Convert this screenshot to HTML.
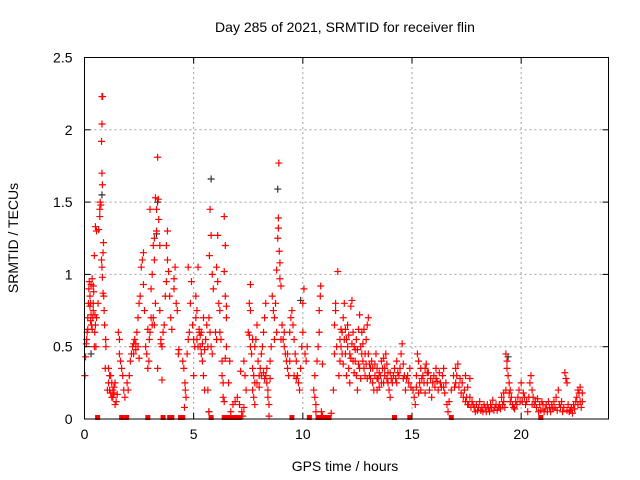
<!DOCTYPE html>
<html><head><meta charset="utf-8"><style>
body{margin:0;background:#fff}
svg{display:block;font-family:"Liberation Sans",sans-serif}
</style></head><body>
<svg id="chart" width="640" height="480">
<rect width="640" height="480" fill="#fff"/>
<g id="grid"></g>
<g id="marks"></g>
<g id="axes"></g>
<text x="345" y="32" text-anchor="middle" font-size="14">Day 285 of 2021, SRMTID for receiver flin</text>
<text x="345" y="471" text-anchor="middle" font-size="14">GPS time / hours</text>
<text transform="translate(18,238) rotate(-90)" text-anchor="middle" font-size="14">SRMTID / TECUs</text>
</svg>
<script>
const xTicks=[0,5,10,15,20];
const yTicks=[0,0.5,1,1.5,2,2.5];
const yTickLabels=["0","0.5","1","1.5","2","2.5"];
const zeroTimes=[0.6,1.7,1.93,2.9,3.6,3.9,4.0,4.4,4.5,5.8,6.4,6.5,6.6,6.7,6.8,6.9,7.0,7.1,9.5,10.3,10.7,10.8,10.9,11.0,11.1,11.2,14.2,14.9,16.8,20.9];
const greyPts=[[0.3,0.45],[0.8,1.55],[3.3,1.28],[3.35,1.5],[5.8,1.66],[8.85,1.59],[19.4,0.43],[5.7,0.05],[9.9,0.82]];
const redPts=[
[0.02,0.3],[0.05,0.43],[0.08,0.52],[0.1,0.55],[0.12,0.6],[0.15,0.7],[0.18,0.8],[0.2,0.9],[0.22,0.95],[0.25,0.78],[0.28,0.8],[0.3,0.72],[0.32,0.65],[0.35,0.62],[0.38,0.7],[0.4,0.75],[0.42,0.88],[0.3,0.93],[0.45,0.5],[0.47,0.6],[0.5,0.65],[0.25,0.85],[0.45,1.13],[0.55,1.3],[0.5,1.33],[0.52,0.5],[0.55,0.7],[0.4,0.92],[0.35,0.97],
[0.62,0.8],[0.65,1.31],[0.7,1.45],[0.72,1.5],[0.7,1.4],[0.75,1.48],[0.8,2.23],[0.83,2.23],[0.8,2.04],[0.78,1.92],[0.8,1.7],[0.82,1.62],[0.78,1.1],[0.8,1.05],[0.85,1.15],[0.87,1.22],[0.82,0.98],[0.85,0.87],[0.9,0.75],[0.88,0.85],[0.92,0.65],[0.95,0.35],[0.97,0.55],[0.98,0.5],
[1.05,0.2],[1.1,0.25],[1.15,0.3],[1.2,0.18],[1.25,0.15],[1.3,0.2],[1.35,0.22],[1.4,0.1],[1.45,0.12],[1.1,0.35],[1.2,0.3],[1.5,0.17],[1.55,0.6],[1.6,0.55],[1.6,0.45],[1.65,0.4],[1.7,0.35],[1.75,0.3],[1.8,0.2],[1.85,0.15],[1.95,0.25],
[2.0,0.2],[2.05,0.3],[2.1,0.4],[2.15,0.45],[2.2,0.5],[2.25,0.52],[2.3,0.55],[2.35,0.48],[2.4,0.6],[2.45,0.7],[2.5,0.8],[2.55,0.85],[2.6,1.05],[2.65,1.1],[2.7,1.15],[2.7,0.93],[2.75,0.75],[2.8,0.5],[2.85,0.45],[2.9,0.35],[2.95,0.4],[2.9,0.62],[2.97,0.55],
[3.0,0.6],[3.05,0.7],[3.1,0.65],[3.05,0.9],[3.1,1.0],[3.15,1.2],[3.2,1.25],[3.0,1.45],[3.25,1.53],[3.3,1.3],[3.35,1.81],[3.38,1.52],[3.3,1.45],[3.4,1.38],[3.45,1.2],[3.2,1.1],[3.25,0.8],[3.45,0.75],[3.5,0.55],[3.55,0.5],[3.35,0.35],[3.55,0.27],[3.6,0.6],[3.65,0.65],[3.7,0.85],[3.8,1.3],[3.75,1.2],[3.8,1.1],[3.85,1.02],[3.75,0.95],[3.9,0.85],[3.95,0.7],[4.0,0.62],[4.1,0.9],[4.15,1.05],[4.1,0.97],[4.2,0.8],[4.25,0.75],[4.3,0.45],[4.32,0.48],
[4.5,0.4],[4.55,0.35],[4.6,0.25],[4.62,0.2],[4.65,0.15],[4.58,0.08],[4.7,0.45],[4.75,0.55],[4.8,0.6],[4.85,0.8],[4.75,1.05],[4.9,0.95],[4.95,0.65],[5.0,0.55],[5.05,0.5],[5.0,0.3],[5.1,0.7],[5.1,0.85],[5.15,0.75],[5.2,1.05],[5.25,0.6],[5.3,0.5],[5.35,0.45],[5.4,0.4],[5.45,0.3],[5.5,0.2],[5.55,0.55],[5.6,0.65],[5.45,0.7],[5.35,0.6],[5.25,0.62],[5.65,0.5],
[5.75,1.45],[5.8,1.27],[5.72,1.13],[5.85,1.0],[5.9,0.9],[5.7,0.7],[5.75,0.6],[5.8,0.5],[5.85,0.45],[5.65,0.2],[5.7,0.05],[6.1,1.27],[6.05,1.05],[6.1,0.95],[6.15,0.8],[6.2,0.75],[6.2,0.6],[6.25,0.55],[6.3,0.4],[6.3,0.3],[6.35,0.25],[6.35,0.15],[6.4,0.12],[6.4,1.4],[6.45,1.2],[6.4,1.02],[6.45,0.85],[6.5,0.78],[6.5,0.7],[6.5,0.5],[6.45,0.42],
[6.6,0.25],[6.65,0.4],[6.7,0.05],[6.8,0.1],[6.9,0.12],[7.0,0.15],[7.1,0.1],[7.2,0.05],[7.25,0.02],[7.3,0.08],[7.15,0.33],[7.3,0.4],[7.35,0.3],[7.4,0.2],
[7.55,0.8],[7.6,0.75],[7.6,0.93],[7.5,0.6],[7.55,0.58],[7.6,0.5],[7.65,0.45],[7.7,0.35],[7.75,0.3],[7.8,0.25],[7.7,0.2],[7.75,0.15],[7.8,0.1],[7.85,0.55],[7.9,0.65],[7.95,0.4],[8.0,0.3],[8.05,0.35],[8.1,0.45],[8.15,0.5],[8.2,0.6],[8.25,0.7],[8.3,0.8],[8.3,0.3],[8.35,0.25],[8.4,0.2],[8.4,0.15],[8.45,0.1],[8.45,0.02],[8.5,0.28],
[8.6,0.85],[8.65,0.75],[8.7,0.7],[8.75,0.8],[8.8,1.03],[8.85,1.25],[8.88,1.32],[8.88,1.39],[8.9,1.77],[8.92,1.16],[8.95,1.08],[8.95,0.97],[9.0,0.92],[9.05,0.65],[9.1,0.55],[9.15,0.5],[9.2,0.45],[9.25,0.4],[9.3,0.35],[9.35,0.3],[9.4,0.6],[9.45,0.7],
[9.5,0.75],[9.55,0.65],[9.6,0.55],[9.65,0.45],[9.7,0.4],[9.75,0.3],[9.8,0.25],[9.85,0.2],[9.9,0.35],[9.95,0.5],[10.0,0.6],[10.0,0.8],[10.05,0.9],[10.1,0.45],[10.15,0.4],[10.2,0.5],
[10.5,0.2],[10.55,0.15],[10.6,0.1],[10.6,0.05],[10.55,0.3],[10.65,0.4],[10.7,0.5],[10.75,0.6],[10.75,0.75],[10.8,0.85],[10.82,0.92],[10.85,0.05],[10.9,0.02],[10.9,0.38],[11.3,0.04],[11.4,0.2],[11.45,0.65],[11.5,0.75],[11.5,0.8],[11.6,1.02],[11.55,0.5],[11.45,0.45],
[11.65,0.3],[11.7,0.4],[11.75,0.5],[11.8,0.6],[11.85,0.7],[11.9,0.8],[11.95,0.45],[12.0,0.55],[12.05,0.65],[12.1,0.35],[12.15,0.25],[12.2,0.78],[12.25,0.82],[12.3,0.6],[12.35,0.5],[12.4,0.4],[12.45,0.3],[12.5,0.2],[12.55,0.62],[12.6,0.72],[12.65,0.5],[12.7,0.45],[12.75,0.4],[12.8,0.35],[12.85,0.3],[12.9,0.55],[12.95,0.65],[13.0,0.7],[12.4,0.48],[12.2,0.42],[11.9,0.55],[12.0,0.3],[12.6,0.35],[12.8,0.62],
[13.05,0.3],[13.1,0.35],[13.15,0.4],[13.2,0.25],[13.25,0.2],[13.3,0.3],[13.35,0.45],[13.4,0.35],[13.45,0.28],[13.5,0.22],[13.55,0.3],[13.6,0.4],[13.65,0.35],[13.7,0.25],[13.75,0.3],[13.8,0.45],[13.85,0.38],[13.9,0.32],[13.95,0.2],[14.0,0.15],[14.1,0.25],[14.2,0.35],[14.3,0.4],[14.4,0.3],[14.5,0.45],[14.55,0.52],[14.6,0.28],[14.7,0.2],[14.8,0.3],[14.9,0.35],[14.95,0.22],[14.25,0.28],[14.0,0.32],[13.7,0.42],[13.4,0.2],
[15.05,0.2],[15.1,0.15],[15.15,0.1],[15.2,0.3],[15.25,0.45],[15.3,0.4],[15.35,0.25],[15.4,0.2],[15.5,0.3],[15.6,0.35],[15.65,0.38],[15.7,0.25],[15.8,0.2],[15.9,0.15],[16.0,0.3],[16.1,0.35],[16.2,0.2],[16.3,0.25],[16.4,0.3],[16.5,0.18],[16.6,0.1],[16.65,0.05],[16.7,0.12],[16.8,0.2],[16.9,0.3],[17.0,0.35],[17.1,0.38],[17.2,0.28],[17.3,0.25],[15.45,0.28],[15.75,0.32],[16.15,0.26],[16.45,0.22],[17.25,0.18],[16.95,0.22],
[17.4,0.2],[17.5,0.15],[17.6,0.1],[17.7,0.08],[17.8,0.1],[17.9,0.05],[18.0,0.06],[18.1,0.12],[18.2,0.08],[18.3,0.1],[18.4,0.05],[18.5,0.07],[18.6,0.1],[18.7,0.13],[18.8,0.08],[18.9,0.06],[19.0,0.1],[19.1,0.15],[19.2,0.12],[19.25,0.08],[17.55,0.22],[17.65,0.28],[17.45,0.3],[18.25,0.05],[18.75,0.06],
[19.3,0.45],[19.35,0.4],[19.4,0.3],[19.45,0.25],[19.5,0.2],[19.55,0.15],[19.6,0.1],[19.7,0.07],[19.8,0.1],[19.9,0.2],[20.0,0.25],[20.1,0.18],[20.2,0.1],[20.3,0.05],[19.35,0.35],[19.45,0.18],[20.05,0.12],
[20.4,0.25],[20.5,0.2],[20.55,0.15],[20.6,0.1],[20.7,0.08],[20.8,0.05],[20.9,0.06],[21.0,0.1],[21.1,0.07],[21.2,0.05],[21.3,0.08],[21.4,0.1],[21.5,0.12],[21.6,0.15],[21.7,0.2],[21.8,0.08],[21.9,0.05],[22.0,0.32],[22.05,0.28],[22.1,0.25],[22.15,0.1],[22.2,0.05],[22.3,0.08],[22.4,0.1],[22.5,0.12],[22.55,0.15],[22.6,0.2],[22.65,0.18],[22.7,0.12],[22.75,0.08],[20.45,0.3],[21.65,0.06],[22.35,0.04],[22.7,0.22],[20.75,0.14],[21.25,0.12]
];
const redPtsExtra=[
[0.15,0.62],[0.28,0.68],[0.4,0.8],[0.48,0.72],[1.15,0.2],[1.25,0.25],[1.3,0.15],[1.35,0.18],[1.4,0.25],[2.25,0.45],[2.35,0.52],[2.45,0.5],[2.5,0.42],[3.15,0.7],[3.2,0.65],[3.5,0.52],[5.15,0.55],[5.2,0.5],[5.3,0.58],[5.4,0.52],[5.5,0.48],[6.0,0.6],[6.05,0.55],
[7.9,0.25],[8.0,0.22],[8.1,0.3],[8.2,0.32],[8.25,0.28],[8.35,0.35],[8.5,0.4],[8.55,0.5],[8.7,0.55],[8.8,0.6],[9.0,0.55],[9.15,0.6],[9.3,0.45],[9.4,0.4],[7.7,0.55],[7.8,0.5],[9.6,0.3],[9.7,0.28],
[11.7,0.55],[11.75,0.62],[11.8,0.45],[11.85,0.38],[11.95,0.62],[12.05,0.5],[12.1,0.58],[12.15,0.45],[12.25,0.52],[12.3,0.4],[12.35,0.32],[12.45,0.55],[12.5,0.48],[12.55,0.38],[12.65,0.28],[12.7,0.6],[12.75,0.52],[12.85,0.45],[12.9,0.38],[12.95,0.28],[13.0,0.45],[13.05,0.38],[13.1,0.28],[13.2,0.35],[13.3,0.38],[13.4,0.28],[13.5,0.32],[13.6,0.25],[13.75,0.35],[13.85,0.28],[13.9,0.25],[14.05,0.28],[14.15,0.3],[14.3,0.25],[14.35,0.32],[14.45,0.35],[14.6,0.38],[14.65,0.3],[14.75,0.28],[14.85,0.25],
[15.2,0.22],[15.3,0.18],[15.4,0.35],[15.55,0.25],[15.6,0.18],[15.7,0.32],[15.85,0.28],[15.95,0.25],[16.05,0.22],[16.1,0.28],[16.25,0.32],[16.35,0.22],[16.45,0.35],[16.55,0.25],[17.0,0.25],[17.05,0.3],[17.15,0.22],[17.35,0.15],[17.45,0.12],[17.55,0.1],[17.65,0.15],[17.75,0.12],[17.85,0.08],[17.95,0.1],[18.05,0.08],[18.15,0.06],[18.35,0.08],[18.45,0.1],[18.55,0.05],[18.65,0.08],[18.85,0.1],[18.95,0.08],[19.05,0.07],[19.15,0.1],[19.2,0.18],[19.3,0.2],[19.5,0.12],[19.65,0.08],[19.75,0.12],[19.85,0.15],[19.95,0.12],[20.15,0.15],[20.25,0.12],[20.35,0.15],[20.5,0.1],[20.65,0.12],[20.85,0.1],[20.95,0.12],[21.05,0.05],[21.15,0.1],[21.35,0.05],[21.45,0.07],[21.55,0.08],[21.75,0.1],[21.85,0.12],[21.95,0.08],[22.1,0.06],[22.25,0.06],[22.45,0.07],[22.6,0.1],[22.8,0.12],[22.8,0.18]
];
const X0=84.5,X1=608.5,Y0=419,Y1=57.5;
function xs(t){return X0+(t/24)*(X1-X0);}
function ys(v){return Y0-(v/2.5)*(Y0-Y1);}
const NS="http://www.w3.org/2000/svg";
function mk(tag,attrs,parent){const e=document.createElementNS(NS,tag);for(const k in attrs)e.setAttribute(k,attrs[k]);parent.appendChild(e);return e;}
const grid=document.getElementById('grid'),axes=document.getElementById('axes'),marks=document.getElementById('marks');
xTicks.forEach(t=>{const x=xs(t);
 if(t>0){const g=mk('line',{x1:x,x2:x,y1:Y0,y2:Y1,stroke:'#a0a0a0','stroke-dasharray':'2,3','stroke-width':1},grid);
 
 }
 mk('line',{x1:x,x2:x,y1:Y0,y2:Y0-6,stroke:'#000'},axes);
 mk('line',{x1:x,x2:x,y1:Y1,y2:Y1+6,stroke:'#000'},axes);
 const l=mk('text',{x:x,y:Y0+20,'text-anchor':'middle','font-size':14},axes);l.textContent=t;
 
 
});
yTicks.forEach((v,i)=>{const y=ys(v);
 if(v>0&&v<2.5){const g=mk('line',{x1:X0,x2:X1,y1:y,y2:y,stroke:'#a0a0a0','stroke-dasharray':'2,3','stroke-width':1},grid);
 
 }
 mk('line',{x1:X0,x2:X0+6,y1:y,y2:y,stroke:'#000'},axes);
 mk('line',{x1:X1,x2:X1-6,y1:y,y2:y,stroke:'#000'},axes);
 const l=mk('text',{x:X0-12,y:y+5,'text-anchor':'end','font-size':14},axes);l.textContent=yTickLabels[i];
 
 
});
const fr=mk('rect',{x:X0,y:Y1,width:X1-X0,height:Y0-Y1,fill:'none',stroke:'#000'},axes);


function plus(t,v,col){const x=xs(t),y=ys(v);
 const p=mk('path',{d:`M${x-3.5},${y}H${x+3.5}M${x},${y-3.5}V${y+3.5}`,stroke:col,'stroke-width':1.2,fill:'none'},marks);
 
 }
greyPts.forEach(p=>plus(p[0],p[1],'#333'));
redPts.forEach(p=>plus(p[0],p[1],'#f00'));
redPtsExtra.forEach(p=>plus(p[0],p[1],'#f00'));
zeroTimes.forEach(t=>{const r=mk('rect',{x:xs(t)-2.5,y:Y0-4,width:5,height:5,fill:'#f00'},marks);
 
 });
</script>
</body></html>
